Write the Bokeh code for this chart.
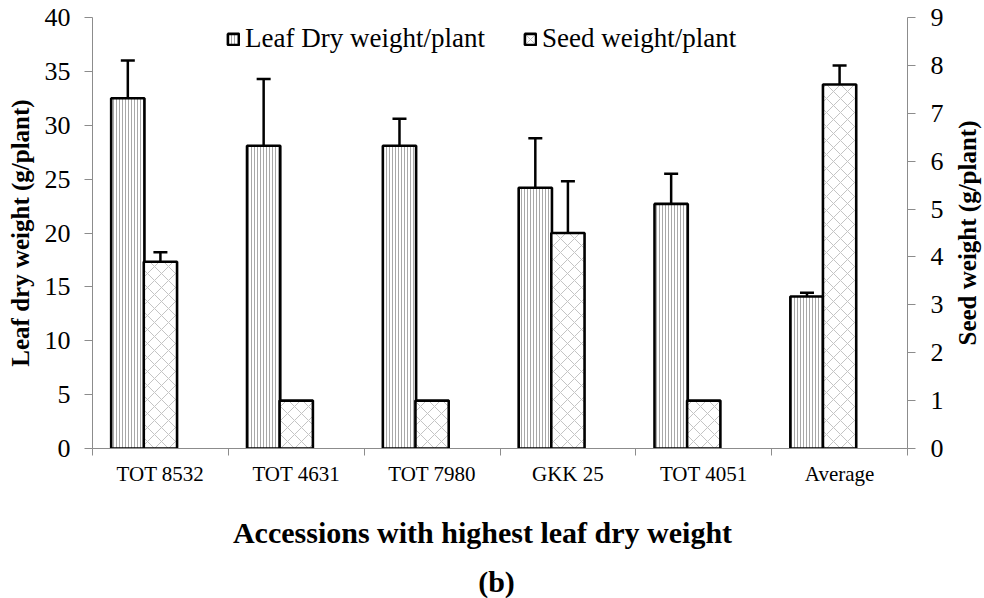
import math
from bokeh.plotting import figure
from bokeh.models import (Range1d, LinearAxis, FixedTicker, ColumnDataSource,
                          Whisker, TeeHead, Legend, LegendItem)
from bokeh.layouts import row, column
from bokeh.core.properties import value
from bokeh.embed import file_html
from bokeh.resources import INLINE

# ---- data ----
categories = ["TOT 8532", "TOT 4631", "TOT 7980", "GKK 25", "TOT 4051", "Average"]
leaf_weight = [32.5, 28.1, 28.1, 24.2, 22.7, 14.1]
leaf_err = [3.5, 6.2, 2.5, 4.6, 2.8, 0.35]
seed_weight = [3.9, 1.0, 1.0, 4.5, 1.0, 7.6]
seed_err = [0.2, 0.0, 0.0, 1.08, 0.0, 0.4]
left_ticks = [0, 5, 10, 15, 20, 25, 30, 35, 40]
right_ticks = [0, 1, 2, 3, 4, 5, 6, 7, 8, 9]
x_title = "Accessions with highest leaf dry weight"
sub_title = "(b)"
right_title = "Seed weight (g/plant)"

FONT = "Liberation Serif"
AXIS_GREY = "#8c8c8c"
BAR_W = 0.245
LEAF_OFF = -0.24
SEED_OFF = 0.0
TOP_B, BOT_B = 17, 60

n = len(categories)
centers = [i + 0.5 for i in range(n)]
leaf_x = [c + LEAF_OFF for c in centers]
seed_x = [c + SEED_OFF for c in centers]

p = figure(width=946, height=508, output_backend="svg", toolbar_location=None,
           x_range=Range1d(0, n), y_range=Range1d(0, 40))
p.min_border_left = 92
p.min_border_right = 38
p.min_border_top = TOP_B
p.min_border_bottom = BOT_B
p.outline_line_color = None
p.xgrid.visible = False
p.ygrid.visible = False
p.background_fill_color = "white"
p.border_fill_color = "white"

p.extra_y_ranges = {"seed": Range1d(0, 9)}

leaf_src = ColumnDataSource(dict(x=leaf_x, top=leaf_weight,
                                 up=[v + e for v, e in zip(leaf_weight, leaf_err)]))
seed_src = ColumnDataSource(dict(x=seed_x, top=seed_weight))

leaf_r = p.vbar(x="x", top="top", width=BAR_W, bottom=0, source=leaf_src,
                fill_color="white", line_color="black", line_width=2.6,
                hatch_pattern="vertical_line", hatch_color="#a8a8a8",
                hatch_scale=3, hatch_weight=1)
seed_r = p.vbar(x="x", top="top", width=BAR_W, bottom=0, source=seed_src,
                y_range_name="seed",
                fill_color="white", line_color="black", line_width=2.6,
                hatch_pattern="diagonal_cross", hatch_color="#c4c4c4",
                hatch_scale=14, hatch_weight=1)

# error bars (upward only)
leaf_w = Whisker(base="x", lower="top", upper="up", source=leaf_src,
                 line_color="black", line_width=2.5,
                 upper_head=TeeHead(size=14, line_color="black", line_width=2.5),
                 lower_head=None)
p.add_layout(leaf_w)

sx = [x for x, e in zip(seed_x, seed_err) if e > 0]
st = [v for v, e in zip(seed_weight, seed_err) if e > 0]
su = [v + e for v, e in zip(seed_weight, seed_err) if e > 0]
seed_err_src = ColumnDataSource(dict(x=sx, top=st, up=su))
seed_w = Whisker(base="x", lower="top", upper="up", source=seed_err_src,
                 y_range_name="seed", line_color="black", line_width=2.5,
                 upper_head=TeeHead(size=14, line_color="black", line_width=2.5),
                 lower_head=None)
p.add_layout(seed_w)

# x axis
xa = p.xaxis[0]
xa.ticker = FixedTicker(ticks=centers, minor_ticks=list(range(n + 1)))
xa.major_label_overrides = {c: lab for c, lab in zip(centers, categories)}
xa.major_tick_out = 0
xa.major_tick_in = 0
xa.minor_tick_out = 7
xa.minor_tick_in = 0
xa.minor_tick_line_color = AXIS_GREY
xa.axis_line_color = AXIS_GREY
xa.major_label_text_font = FONT
xa.major_label_text_font_size = "21px"
xa.major_label_text_color = "black"
xa.major_label_standoff = 6

# left axis
ya = p.yaxis[0]
ya.ticker = FixedTicker(ticks=left_ticks)
ya.minor_tick_out = 0
ya.minor_tick_in = 0
ya.major_tick_out = 8
ya.major_tick_in = 0
ya.major_tick_line_color = AXIS_GREY
ya.axis_line_color = AXIS_GREY
ya.major_label_text_font = FONT
ya.major_label_text_font_size = "26px"
ya.major_label_text_color = "black"
ya.major_label_standoff = 14
ya.axis_label = "Leaf dry weight (g/plant)"
ya.axis_label_text_font = FONT
ya.axis_label_text_font_style = "bold"
ya.axis_label_text_font_size = "25px"
ya.axis_label_text_color = "black"
ya.axis_label_standoff = 8

# right axis
ra = LinearAxis(y_range_name="seed", ticker=FixedTicker(ticks=right_ticks))
ra.minor_tick_out = 0
ra.minor_tick_in = 0
ra.major_tick_out = 8
ra.major_tick_in = 0
ra.major_tick_line_color = AXIS_GREY
ra.axis_line_color = AXIS_GREY
ra.major_label_text_font = FONT
ra.major_label_text_font_size = "26px"
ra.major_label_text_color = "black"
ra.major_label_standoff = 15
p.add_layout(ra, "right")

legend = Legend(items=[LegendItem(label="Leaf Dry weight/plant", renderers=[leaf_r]),
                       LegendItem(label="Seed weight/plant", renderers=[seed_r])],
                orientation="horizontal", location=(134, 394),
                border_line_color=None, background_fill_alpha=0,
                glyph_width=14, glyph_height=14, spacing=38, padding=2, margin=0,
                label_standoff=5,
                label_text_font=FONT, label_text_font_size="27px",
                label_text_color="black")
p.add_layout(legend, "center")

# right-hand title strip (text reads bottom to top)
p2 = figure(width=38, height=508, output_backend="svg", toolbar_location=None,
            x_range=Range1d(0, 1), y_range=Range1d(0, 1),
            x_axis_location=None, y_axis_location=None)
p2.min_border_left = 0
p2.min_border_right = 0
p2.min_border_top = TOP_B
p2.min_border_bottom = BOT_B
p2.outline_line_color = None
p2.grid.visible = False
p2.text(x=[0.55], y=[0.5], text=[right_title], angle=math.pi / 2,
        text_align="center", text_baseline="middle",
        text_font=value(FONT), text_font_style="bold", text_font_size="25px",
        text_color="black")

# bottom title strip
p3 = figure(width=984, height=90, output_backend="svg", toolbar_location=None,
            x_range=Range1d(0, 984), y_range=Range1d(0, 90),
            x_axis_location=None, y_axis_location=None)
p3.min_border_left = 0
p3.min_border_right = 0
p3.min_border_top = 0
p3.min_border_bottom = 0
p3.outline_line_color = None
p3.grid.visible = False
p3.text(x=[482, 496], y=[66, 17], text=[x_title, sub_title],
        text_align="center", text_baseline="alphabetic",
        text_font=value(FONT), text_font_style="bold", text_font_size="30px",
        text_color="black")

layout = column(row(p, p2, spacing=0), p3, spacing=0)
open("out.html", "w").write(file_html(layout, INLINE))
